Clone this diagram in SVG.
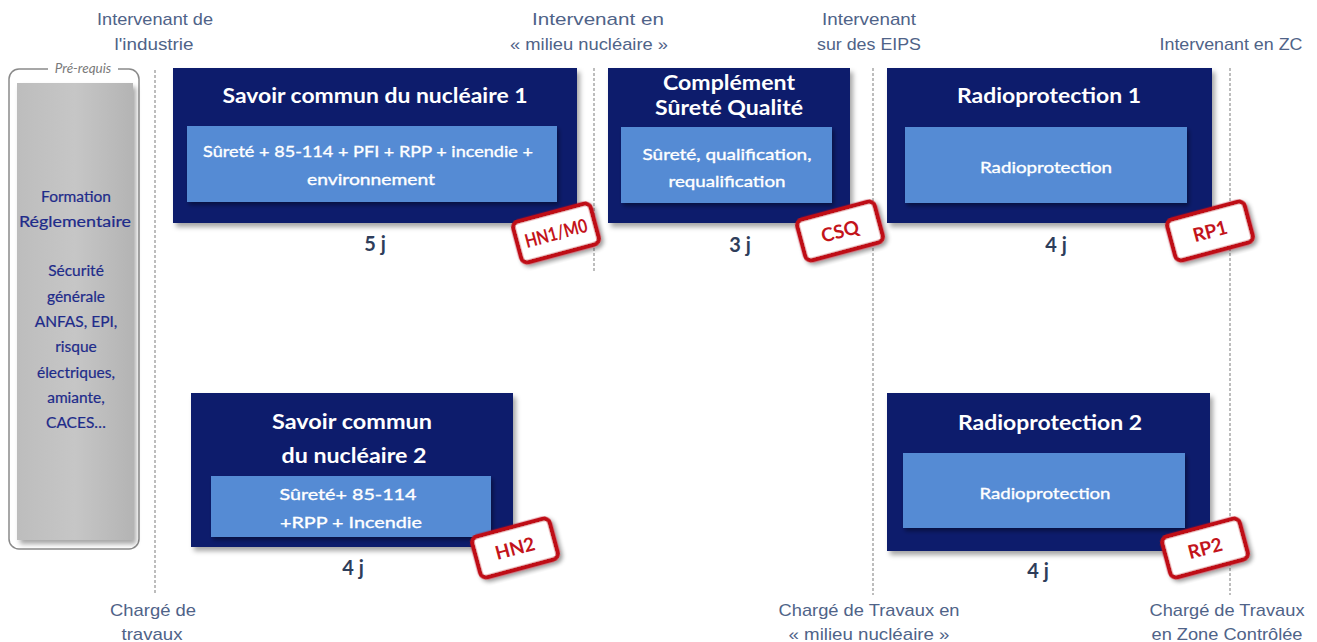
<svg xmlns="http://www.w3.org/2000/svg" width="1317" height="642" viewBox="0 0 1317 642">
<defs>
<filter id="sh" x="-10%" y="-10%" width="125%" height="130%"><feDropShadow dx="3" dy="4" stdDeviation="2.5" flood-color="#000" flood-opacity="0.35"/></filter>
<filter id="sh2" x="-10%" y="-10%" width="125%" height="130%"><feDropShadow dx="2" dy="3" stdDeviation="2" flood-color="#000" flood-opacity="0.4"/></filter>
<linearGradient id="gray" x1="0" y1="0" x2="1" y2="0"><stop offset="0" stop-color="#bdbdbd"/><stop offset="0.5" stop-color="#c6c6c6"/><stop offset="1" stop-color="#b4b4b4"/></linearGradient>
</defs>
<style>
.hdr{font-family:"Liberation Sans Narrow","Liberation Sans",sans-serif;font-size:17px;fill:#4f6388;text-anchor:middle}
.box{fill:#0c1d6c;filter:url(#sh)}
.inner{fill:#558bd4;filter:url(#sh2)}
.title{font-family:Lato,"Open Sans",sans-serif;font-weight:bold;font-size:21px;fill:#fff;text-anchor:middle}
.itxt{font-family:Lato,"Open Sans",sans-serif;font-size:16px;fill:#fff;stroke:#fff;stroke-width:0.35;text-anchor:middle}
.dur{font-family:Lato,"Open Sans",sans-serif;font-weight:bold;font-size:20px;fill:#2e3d5a;text-anchor:middle}
.badge rect{fill:#fff;stroke:#bf1118;stroke-width:4.5;filter:url(#sh2)}
.badge text{font-family:Lato,"Open Sans",sans-serif;font-weight:bold;font-size:19px;fill:#c3141b;text-anchor:middle}
.dash{stroke:#9a9a9a;stroke-width:1.3;stroke-dasharray:3 2;fill:none}
.pre{font-family:Lato,"Open Sans",sans-serif;font-size:15.5px;fill:#1e2b8a;stroke:#1e2b8a;stroke-width:0.2;text-anchor:middle}
</style>
<rect width="1317" height="642" fill="#fff"/>

<g id="headers">
<text class="hdr" x="155" y="25" textLength="116" lengthAdjust="spacingAndGlyphs">Intervenant de</text>
<text class="hdr" x="154" y="50" textLength="79" lengthAdjust="spacingAndGlyphs">l'industrie</text>
<text class="hdr" x="598" y="25" textLength="132" lengthAdjust="spacingAndGlyphs">Intervenant en</text>
<text class="hdr" x="589" y="50" textLength="158" lengthAdjust="spacingAndGlyphs">« milieu nucléaire »</text>
<text class="hdr" x="869" y="25" textLength="94" lengthAdjust="spacingAndGlyphs">Intervenant</text>
<text class="hdr" x="869" y="50" textLength="104" lengthAdjust="spacingAndGlyphs">sur des EIPS</text>
<text class="hdr" x="1231" y="50" textLength="143" lengthAdjust="spacingAndGlyphs">Intervenant en ZC</text>
<text class="hdr" x="153" y="616" textLength="86" lengthAdjust="spacingAndGlyphs">Chargé de</text>
<text class="hdr" x="152" y="640" textLength="61" lengthAdjust="spacingAndGlyphs">travaux</text>
<text class="hdr" x="869" y="616" textLength="181" lengthAdjust="spacingAndGlyphs">Chargé de Travaux en</text>
<text class="hdr" x="869" y="640" textLength="161" lengthAdjust="spacingAndGlyphs">« milieu nucléaire »</text>
<text class="hdr" x="1227" y="616" textLength="155" lengthAdjust="spacingAndGlyphs">Chargé de Travaux</text>
<text class="hdr" x="1227" y="640" textLength="151" lengthAdjust="spacingAndGlyphs">en Zone Contrôlée</text>
</g>

<g id="connectors">
<line class="dash" x1="155" y1="70" x2="155" y2="595"/>
<line class="dash" x1="594" y1="68" x2="594" y2="272"/>
<line class="dash" x1="873" y1="68" x2="873" y2="595"/>
<line class="dash" x1="1230" y1="68" x2="1230" y2="595"/>
</g>

<g id="prerequis">
<path d="M48,69 H19 A10,10 0 0 0 9,79 V539 A10,10 0 0 0 19,549 H129 A10,10 0 0 0 139,539 V79 A10,10 0 0 0 129,69 H118" fill="none" stroke="#8a8a8a" stroke-width="1.5"/>
<text x="83" y="73" font-family="Lato,'Open Sans',sans-serif" font-style="italic" font-size="13.5" fill="#7a7a7a" text-anchor="middle">Pré-requis</text>
<rect x="17" y="83" width="116" height="457" fill="url(#gray)" filter="url(#sh)"/>
<text class="pre" x="76" y="202">Formation</text>
<text class="pre" x="75" y="227" textLength="112" lengthAdjust="spacingAndGlyphs">Réglementaire</text>
<text class="pre" x="76" y="276">Sécurité</text>
<text class="pre" x="76" y="302">générale</text>
<text class="pre" x="76" y="327">ANFAS, EPI,</text>
<text class="pre" x="76" y="352">risque</text>
<text class="pre" x="76" y="378">électriques,</text>
<text class="pre" x="76" y="403">amiante,</text>
<text class="pre" x="76" y="428">CACES…</text>
</g>

<g id="hn1">
<rect class="box" x="173" y="68" width="404" height="155"/>
<text class="title" x="375" y="103" textLength="305" lengthAdjust="spacingAndGlyphs">Savoir commun du nucléaire 1</text>
<rect class="inner" x="187" y="126" width="370" height="76"/>
<text class="itxt" x="368" y="157" textLength="330" lengthAdjust="spacingAndGlyphs">Sûreté + 85-114 + PFI + RPP + incendie +</text>
<text class="itxt" x="371" y="185" textLength="128" lengthAdjust="spacingAndGlyphs">environnement</text>
<text class="dur" x="375" y="251">5 j</text>
<g class="badge" transform="translate(556,233) rotate(-15)"><rect x="-40" y="-21" width="80" height="42" rx="6"/><text x="0" y="7" textLength="64" lengthAdjust="spacingAndGlyphs">HN1/M0</text></g>
</g>

<g id="csq">
<rect class="box" x="608" y="68" width="242" height="155"/>
<text class="title" x="729" y="90" textLength="132" lengthAdjust="spacingAndGlyphs">Complément</text>
<text class="title" x="729" y="115" textLength="148" lengthAdjust="spacingAndGlyphs">Sûreté Qualité</text>
<rect class="inner" x="621" y="127" width="211" height="76"/>
<text class="itxt" x="727" y="160" textLength="169" lengthAdjust="spacingAndGlyphs">Sûreté, qualification,</text>
<text class="itxt" x="727" y="187" textLength="117" lengthAdjust="spacingAndGlyphs">requalification</text>
<text class="dur" x="740" y="252">3 j</text>
<g class="badge" transform="translate(840,231) rotate(-15)"><rect x="-40" y="-21" width="80" height="42" rx="6"/><text x="0" y="7">CSQ</text></g>
</g>

<g id="rp1">
<rect class="box" x="887" y="68" width="325" height="155"/>
<text class="title" x="1049" y="103" textLength="184" lengthAdjust="spacingAndGlyphs">Radioprotection 1</text>
<rect class="inner" x="905" y="127" width="282" height="76"/>
<text class="itxt" x="1046" y="173" textLength="132" lengthAdjust="spacingAndGlyphs">Radioprotection</text>
<text class="dur" x="1056" y="252">4 j</text>
<g class="badge" transform="translate(1210,231) rotate(-15)"><rect x="-40" y="-21" width="80" height="42" rx="6"/><text x="0" y="7">RP1</text></g>
</g>

<g id="hn2">
<rect class="box" x="191" y="393" width="322" height="154"/>
<text class="title" x="352" y="429" textLength="160" lengthAdjust="spacingAndGlyphs">Savoir commun</text>
<text class="title" x="354" y="463" textLength="145" lengthAdjust="spacingAndGlyphs">du nucléaire 2</text>
<rect class="inner" x="211" y="476" width="280" height="61"/>
<text class="itxt" x="348" y="500" textLength="137" lengthAdjust="spacingAndGlyphs">Sûreté+ 85-114</text>
<text class="itxt" x="351" y="528" textLength="142" lengthAdjust="spacingAndGlyphs">+RPP + Incendie</text>
<text class="dur" x="353" y="575">4 j</text>
<g class="badge" transform="translate(515,548) rotate(-15)"><rect x="-40" y="-21" width="80" height="42" rx="6"/><text x="0" y="7">HN2</text></g>
</g>

<g id="rp2">
<rect class="box" x="887" y="393" width="323" height="158"/>
<text class="title" x="1050" y="430" textLength="184" lengthAdjust="spacingAndGlyphs">Radioprotection 2</text>
<rect class="inner" x="903" y="453" width="282" height="75"/>
<text class="itxt" x="1045" y="499" textLength="131" lengthAdjust="spacingAndGlyphs">Radioprotection</text>
<text class="dur" x="1038" y="578">4 j</text>
<g class="badge" transform="translate(1205,548) rotate(-15)"><rect x="-40" y="-21" width="80" height="42" rx="6"/><text x="0" y="7">RP2</text></g>
</g>
</svg>
